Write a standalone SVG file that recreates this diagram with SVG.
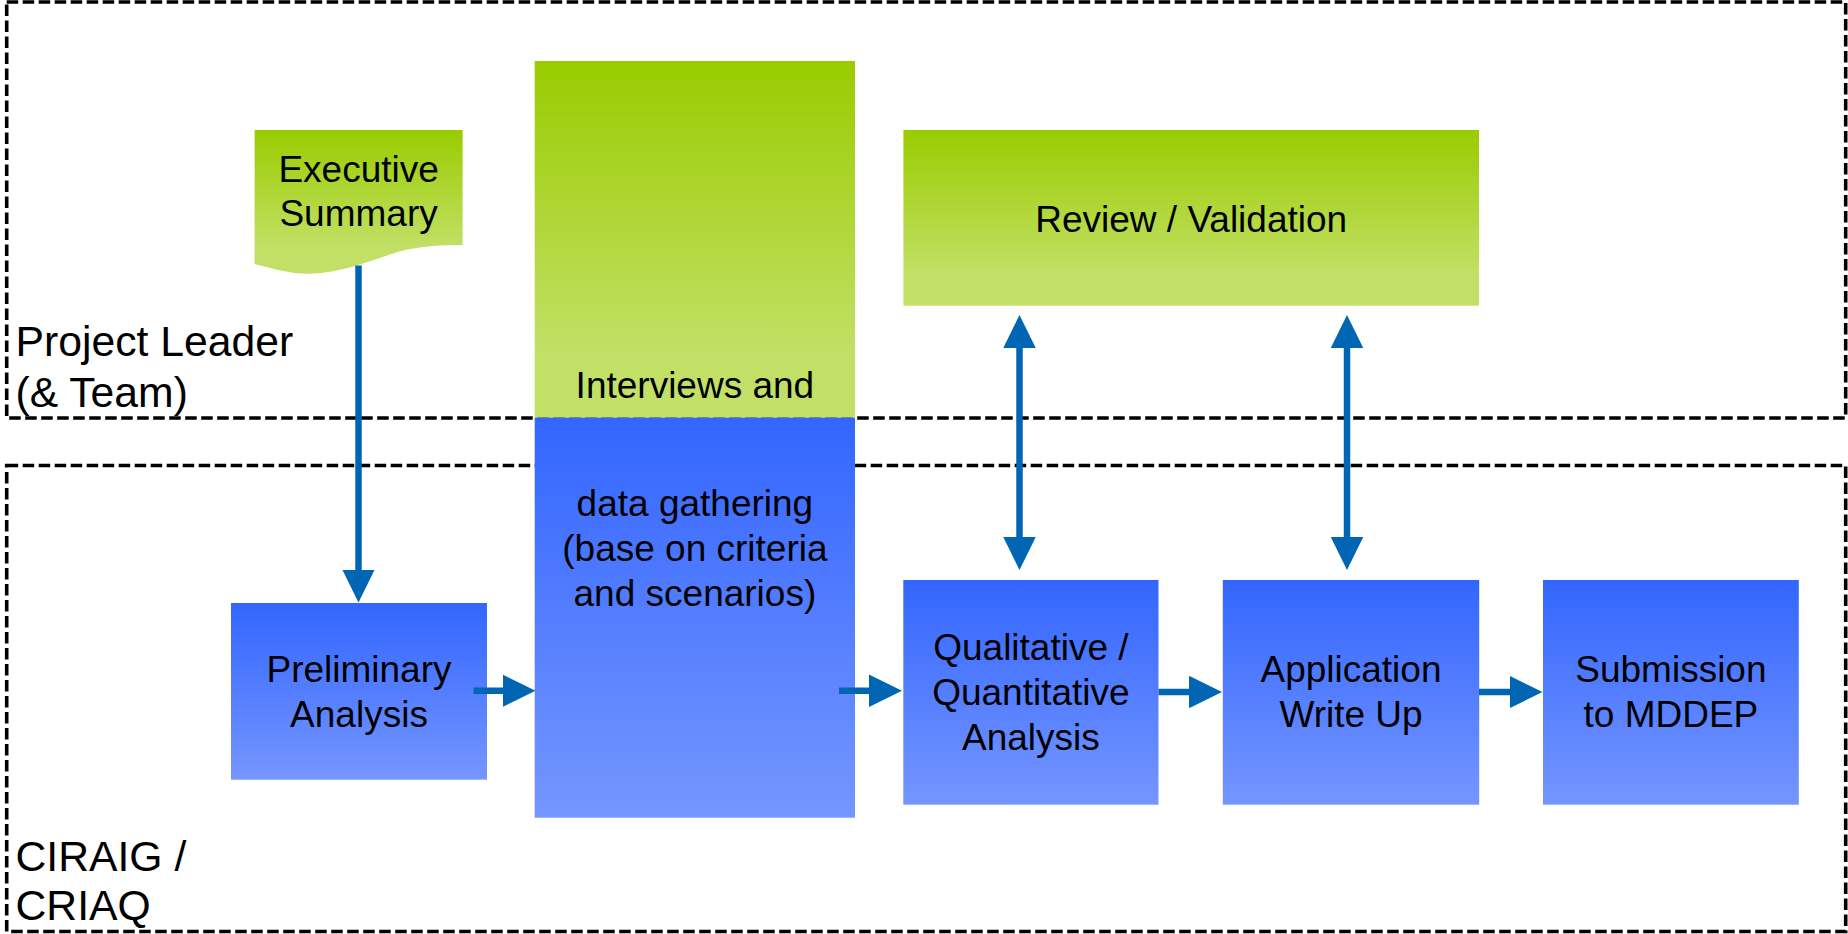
<svg xmlns="http://www.w3.org/2000/svg" width="1848" height="934" viewBox="0 0 1848 934">
  <defs>
    <linearGradient id="gGreen" x1="0" y1="0" x2="0" y2="1">
      <stop offset="0" stop-color="#99CC00"/>
      <stop offset="0.82" stop-color="#C2E066"/>
      <stop offset="1" stop-color="#C2E066"/>
    </linearGradient>
    <linearGradient id="gBlue" x1="0" y1="0" x2="0" y2="1">
      <stop offset="0" stop-color="#3366FF"/>
      <stop offset="1" stop-color="#7596FF"/>
    </linearGradient>
    <marker id="arr" viewBox="0 0 33 32.5" refX="8" refY="16.25" markerWidth="33" markerHeight="32.5" markerUnits="userSpaceOnUse" orient="auto-start-reverse">
      <path d="M0,0 L33,16.25 L0,32.5 Z" fill="#0066B3"/>
    </marker>
    <style>
      .lane { fill: none; stroke: #000; stroke-width: 3.6; stroke-dasharray: 11.5 4.5; }
      .lbl { font-family: "Liberation Sans", Arial, sans-serif; font-size: 37px; fill: #000; text-anchor: middle; }
      .lane-lbl { font-family: "Liberation Sans", Arial, sans-serif; font-size: 42.7px; fill: #000; }
      .green { fill: url(#gGreen); }
      .blue { fill: url(#gBlue); }
      .conn { fill: none; stroke: #0066B3; stroke-width: 6.5; }
    </style>
  </defs>

  <rect width="1848" height="934" fill="#FFFFFF"/>

  <g id="lane-project-leader">
    <rect class="lane" x="6.7" y="2" width="1839" height="416"/>
    <text class="lane-lbl" x="15.5" y="356">Project Leader</text>
    <text class="lane-lbl" x="15.5" y="407">(&amp; Team)</text>
  </g>
  <g id="lane-ciraig">
    <rect class="lane" x="6.7" y="465.5" width="1839" height="466"/>
    <text class="lane-lbl" x="15.5" y="871">CIRAIG /</text>
    <text class="lane-lbl" x="15.5" y="920">CRIAQ</text>
  </g>

  <g id="node-executive-summary">
    <path class="green" d="M254.6,130 H462.6 V245 C440,245 425,246 405,250 C375,258 345,273 310,273.7 C295,274 280,271 254.6,264 Z"/>
    <text class="lbl" x="358.6" y="181.7">Executive</text>
    <text class="lbl" x="358.6" y="226">Summary</text>
  </g>

  <g id="node-interviews">
    <rect class="green" x="534.7" y="61" width="320.3" height="356.7"/>
    <rect class="blue" x="534.7" y="417.7" width="320.3" height="400"/>
    <text class="lbl" x="694.9" y="398.3">Interviews and</text>
    <text class="lbl" x="694.9" y="516">data gathering</text>
    <text class="lbl" x="694.9" y="560.7">(base on criteria</text>
    <text class="lbl" x="694.9" y="605.5">and scenarios)</text>
  </g>

  <g id="node-review">
    <rect class="green" x="903.4" y="130" width="575.6" height="175.7"/>
    <text class="lbl" x="1191.2" y="231.7">Review / Validation</text>
  </g>

  <g id="node-preliminary">
    <rect class="blue" x="231" y="603" width="256" height="176.7"/>
    <text class="lbl" x="359" y="682.3">Preliminary</text>
    <text class="lbl" x="359" y="726.7">Analysis</text>
  </g>

  <g id="node-qualitative">
    <rect class="blue" x="903.3" y="580" width="255.2" height="224.7"/>
    <text class="lbl" x="1030.9" y="660">Qualitative /</text>
    <text class="lbl" x="1030.9" y="705">Quantitative</text>
    <text class="lbl" x="1030.9" y="750">Analysis</text>
  </g>

  <g id="node-application">
    <rect class="blue" x="1222.8" y="580" width="256.4" height="224.7"/>
    <text class="lbl" x="1351" y="682.3">Application</text>
    <text class="lbl" x="1351" y="726.7">Write Up</text>
  </g>

  <g id="node-submission">
    <rect class="blue" x="1543" y="580" width="255.8" height="224.7"/>
    <text class="lbl" x="1670.9" y="682.3">Submission</text>
    <text class="lbl" x="1670.9" y="726.7">to MDDEP</text>
  </g>

  <g id="connectors">
    <line class="conn" x1="358.5" y1="265.5" x2="358.5" y2="577.5" marker-end="url(#arr)"/>
    <line class="conn" x1="473.5" y1="690.7" x2="510.5" y2="690.7" marker-end="url(#arr)"/>
    <line class="conn" x1="839" y1="690.7" x2="877" y2="690.7" marker-end="url(#arr)"/>
    <line class="conn" x1="1158.5" y1="692" x2="1197" y2="692" marker-end="url(#arr)"/>
    <line class="conn" x1="1479" y1="692" x2="1517.5" y2="692" marker-end="url(#arr)"/>
    <line class="conn" x1="1019.5" y1="340" x2="1019.5" y2="545" marker-start="url(#arr)" marker-end="url(#arr)"/>
    <line class="conn" x1="1347" y1="340" x2="1347" y2="545" marker-start="url(#arr)" marker-end="url(#arr)"/>
  </g>
</svg>
